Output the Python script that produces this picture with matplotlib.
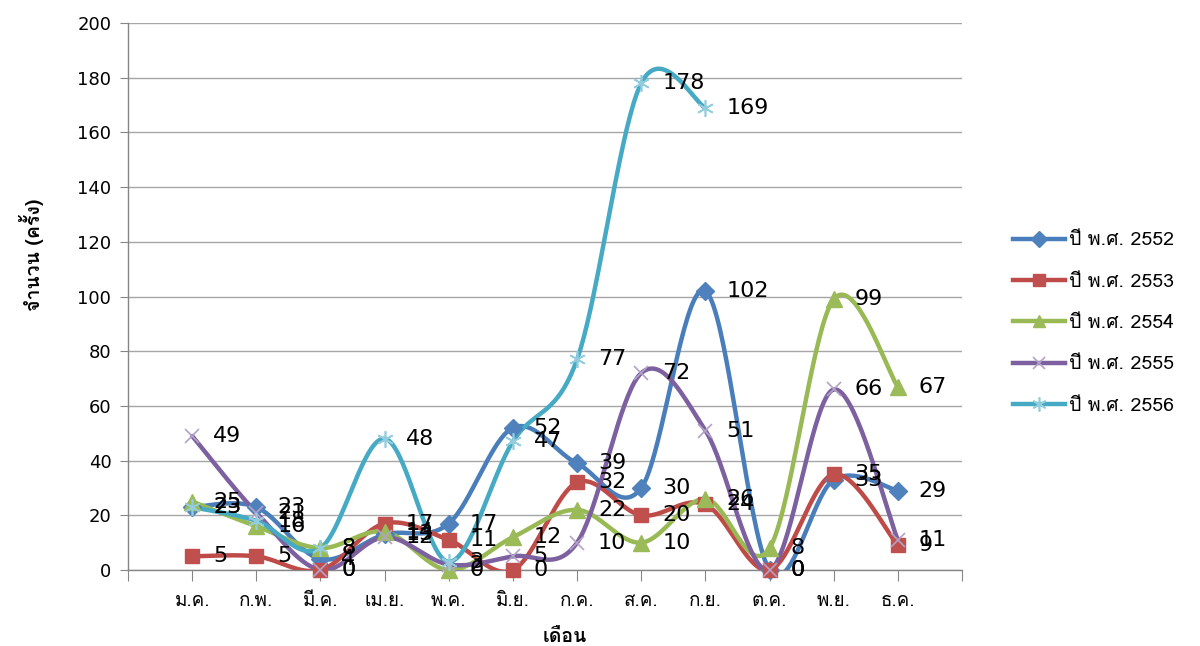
import numpy as np
import matplotlib
matplotlib.use("Agg")
import matplotlib.pyplot as plt
from matplotlib import font_manager, ft2font
from matplotlib.lines import Line2D

# ---------------- data ----------------
months = ["", "ม.ค.", "ก.พ.", "มี.ค.", "เม.ย.", "พ.ค.", "มิ.ย.", "ก.ค.",
          "ส.ค.", "ก.ย.", "ต.ค.", "พ.ย.", "ธ.ค.", ""]
series_names = ["ปี พ.ศ. 2552", "ปี พ.ศ. 2553", "ปี พ.ศ. 2554",
                "ปี พ.ศ. 2555", "ปี พ.ศ. 2556"]
y2552 = [23, 23, 4, 13, 17, 52, 39, 30, 102, 0, 33, 29]
y2553 = [5, 5, 0, 17, 11, 0, 32, 20, 24, 0, 35, 9]
y2554 = [25, 16, 8, 14, 0, 12, 22, 10, 26, 8, 99, 67]
y2555 = [49, 21, 0, 12, 2, 5, 10, 72, 51, 0, 66, 11]
y2556 = [23, 18, 8, 48, 3, 47, 77, 178, 169]
y_ticks = [0, 20, 40, 60, 80, 100, 120, 140, 160, 180, 200]

# ---------------- fonts ----------------
thai_family = None
for f in font_manager.fontManager.ttflist:
    try:
        cm = ft2font.FT2Font(f.fname).get_charmap()
        if 0x0E01 in cm and 0x0E33 in cm and 0x0E49 in cm:
            thai_family = f.name
            break
    except Exception:
        pass
families = ([thai_family] if thai_family else []) + ["DejaVu Sans"]
plt.rcParams["font.family"] = families

# ---------------- helpers ----------------
def smooth(xs, ys, n=40):
    xs = np.asarray(xs, float)
    ys = np.asarray(ys, float)
    P = np.column_stack([xs, ys])
    out = []
    m = len(P)
    for i in range(m - 1):
        p0 = P[i - 1] if i > 0 else P[i]
        p1 = P[i]
        p2 = P[i + 1]
        p3 = P[i + 2] if i + 2 < m else P[i + 1]
        c1 = p1 + (p2 - p0) / 6.0
        c2 = p2 - (p3 - p1) / 6.0
        t = np.linspace(0, 1, n)[:, None]
        seg = ((1 - t) ** 3) * p1 + 3 * ((1 - t) ** 2) * t * c1 + \
              3 * (1 - t) * t ** 2 * c2 + t ** 3 * p2
        out.append(seg if i == 0 else seg[1:])
    c = np.vstack(out)
    return c[:, 0], c[:, 1]

styles = [
    dict(line="#4A7EBB", marker="D", mfc="#4F81BD", mec="#4F81BD", ms=9, mew=1),
    dict(line="#BE4B48", marker="s", mfc="#C0504D", mec="#C0504D", ms=10, mew=1),
    dict(line="#98B954", marker="^", mfc="#9BBB59", mec="#9BBB59", ms=11, mew=1),
    dict(line="#7D60A0", marker="x", mfc="none", mec="#B3A2C7", ms=10, mew=1.2),
    dict(line="#46AAC5", marker=(6, 2, 0), mfc="none", mec="#93CDDD", ms=12, mew=1.2),
]
all_series = [y2552, y2553, y2554, y2555, y2556]

# ---------------- figure ----------------
fig = plt.figure(figsize=(12, 6.46), dpi=100)
ax = fig.add_axes([128 / 1200, 1 - 570 / 646, (962 - 128) / 1200, (570 - 23) / 646])

ax.set_xlim(0, len(months) - 1)
ax.set_ylim(0, 200)
ax.set_yticks(y_ticks)
ax.set_yticklabels([str(v) for v in y_ticks], fontsize=13, family="DejaVu Sans")
ax.set_xticks(range(len(months)))
ax.set_xticklabels(months, fontsize=13.5)
ax.tick_params(axis="x", length=8, color="#868686", pad=8)
ax.tick_params(axis="y", length=6, color="#868686", pad=6)
ax.grid(axis="y", color="#A6A6A6", lw=1)
ax.set_axisbelow(True)
for s in ["top", "right"]:
    ax.spines[s].set_visible(False)
for s in ["left", "bottom"]:
    ax.spines[s].set_color("#868686")
    ax.spines[s].set_linewidth(1)

handles = []
for vals, st, name in zip(all_series, styles, series_names):
    xs = np.arange(1, len(vals) + 1)
    sx, sy = smooth(xs, vals)
    ax.plot(sx, sy, color=st["line"], lw=3.2, solid_capstyle="round", zorder=3)
    ax.plot(xs, vals, ls="none", marker=st["marker"], ms=st["ms"],
            mfc=st["mfc"], mec=st["mec"], mew=st["mew"], clip_on=False, zorder=4)
    handles.append(Line2D([], [], color=st["line"], lw=3.2, marker=st["marker"],
                          ms=st["ms"] * 0.85, mfc=st["mfc"], mec=st["mec"],
                          mew=st["mew"], label=name))

for vals in all_series:
    for x, v in zip(range(1, len(vals) + 1), vals):
        ax.annotate(str(v), (x, v), xytext=(15, 0), textcoords="offset points",
                    ha="left", va="center", fontsize=16, color="black",
                    family="DejaVu Sans", zorder=6, annotation_clip=False)

fig.legend(handles=handles, loc="center left", bbox_to_anchor=(1005 / 1200, 1 - 323 / 646),
           frameon=False, fontsize=14, handlelength=2.7, labelspacing=1.2,
           handletextpad=0.2, borderaxespad=0)

fig.text(32 / 1200, 1 - 255 / 646, "จำนวน (ครั้ง)", rotation=90, ha="center",
         va="center", fontsize=14, fontweight="bold")
fig.text(565 / 1200, 1 - 637 / 646, "เดือน", ha="center", va="center",
         fontsize=14, fontweight="bold")

fig.savefig("out.png", dpi=100)
